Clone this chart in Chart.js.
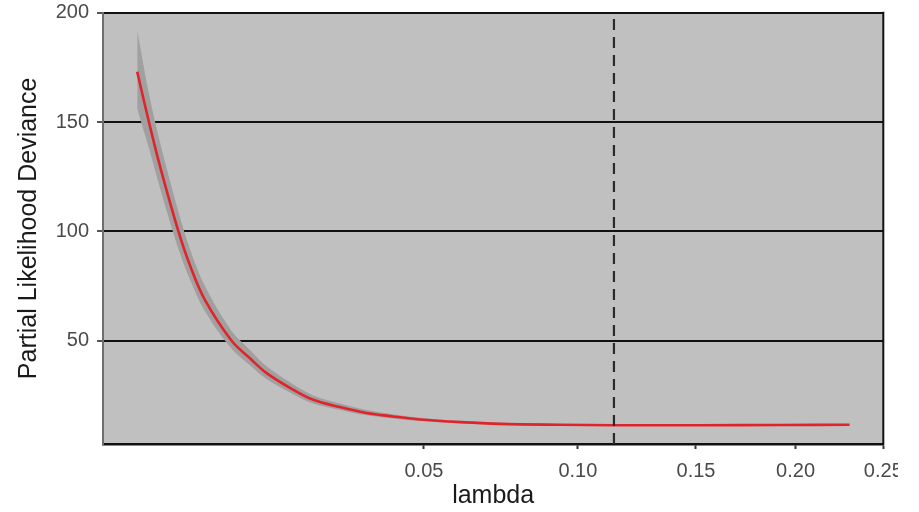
<!DOCTYPE html>
<html>
<head>
<meta charset="utf-8">
<script src="https://cdn.jsdelivr.net/npm/chart.js@4.4.1/dist/chart.umd.min.js"></script>
<style>
  html, body { margin: 0; padding: 0; background: #fff; }
  #wrap { width: 898px; height: 512px; overflow: hidden; }
</style>
</head>
<body>
<div id="wrap"><canvas id="cv" width="919" height="512"></canvas></div>
<script>
// cross-validated deviance
const lambdas  = [0.00261, 0.00338, 0.00419, 0.00576, 0.00686, 0.00843, 0.01164, 0.01414, 0.01663, 0.02044, 0.02465,
                  0.02995, 0.03577, 0.0420, 0.04893, 0.0602, 0.0725, 0.0933, 0.1142, 0.1519, 0.1917, 0.2301];
const devMean  = [173, 150, 130, 100, 84.5, 68.7, 50, 42, 35.2, 28.5, 23, 19.7, 17, 15.4, 14, 12.8, 12.0, 11.6, 11.4, 11.4, 11.5, 11.6];
const devUpper = [192, 163, 141, 109, 92, 75, 54.5, 45.8, 38.3, 31, 25, 21.3, 18.3, 16.4, 14.8, 13.4, 12.5, 12.0, 11.8, 11.8, 11.9, 12.0];
const devLower = [156, 138, 120, 92, 78, 63.5, 46.3, 38.8, 32.5, 26.4, 21.3, 18.4, 15.9, 14.5, 13.3, 12.3, 11.6, 11.3, 11.1, 11.1, 11.2, 11.3];
const lambdaMin = 0.1142;

const xTickVals   = [0.05, 0.10, 0.15, 0.20, 0.25];
const xTickLabels = ["0.05", "0.10", "0.15", "0.20", "0.25"];
const yTickVals   = [50, 100, 150, 200];
const xAxisRange  = [0.00093, 0.25];
const yAxisRange  = [2.8, 200];

const FONT = '"Liberation Sans", Arial, Helvetica, sans-serif';
const sq = v => Math.sqrt(v); // x axis is square-root scaled

function pts(ys) {
  return lambdas.map((l, i) => ({ x: sq(l), y: ys[i] }));
}

const panelBg = {
  id: "panelBg",
  beforeDraw(chart) {
    const { ctx, chartArea: a } = chart;
    ctx.save();
    ctx.fillStyle = "#c0c0c0";
    ctx.fillRect(a.left, a.top, a.right - a.left, a.bottom - a.top);
    ctx.restore();
  },
  afterDraw(chart) {
    const { ctx, chartArea: a } = chart;
    ctx.save();
    ctx.strokeStyle = "#111";
    ctx.lineWidth = 2;
    ctx.beginPath();
    ctx.moveTo(a.right, a.top - 1);
    ctx.lineTo(a.right, a.bottom + 1);
    ctx.stroke();
    ctx.restore();
  }
};

new Chart(document.getElementById("cv"), {
  type: "line",
  data: {
    datasets: [
      { data: pts(devUpper), order: 4, borderWidth: 0, pointRadius: 0, fill: "+1", backgroundColor: "#a0a0a0", tension: 0.35 },
      { data: pts(devLower), order: 3, borderWidth: 0, pointRadius: 0, fill: false, tension: 0.35 },
      { data: pts(devMean), order: 1, borderColor: "#e0242b", borderWidth: 2.6, pointRadius: 0, fill: false, tension: 0.35 },
      { data: [{ x: sq(lambdaMin), y: yAxisRange[0] }, { x: sq(lambdaMin), y: yAxisRange[1] }], order: 0,
        borderColor: "#2a2a2a", borderWidth: 2.2, borderDash: [11, 7], pointRadius: 0, fill: false }
    ]
  },
  options: {
    responsive: false,
    animation: false,
    devicePixelRatio: 1,
    layout: { autoPadding: false, padding: { left: 0, right: 35.7, top: 12.7, bottom: 0 } },
    plugins: { legend: { display: false }, tooltip: { enabled: false }, filler: { drawTime: "beforeDatasetsDraw" } },
    scales: {
      x: {
        type: "linear",
        min: sq(xAxisRange[0]),
        max: sq(xAxisRange[1]),
        afterBuildTicks: s => { s.ticks = xTickVals.map(v => ({ value: sq(v) })); },
        afterFit: s => { s.height = 68; s.paddingLeft = 0; s.paddingRight = 0; },
        grid: { drawOnChartArea: false, drawTicks: true, tickLength: 5, tickColor: "#333", tickWidth: 2 },
        border: { display: true, color: "#111", width: 2.5 },
        ticks: {
          autoSkip: false, maxRotation: 0, padding: 10, color: "#4a4a4a",
          font: { family: FONT, size: 20 },
          callback: (v, i) => xTickLabels[i]
        },
        title: { display: true, text: "lambda", color: "#1a1a1a", font: { family: FONT, size: 25 }, padding: { top: 0, bottom: 1 } }
      },
      y: {
        type: "linear",
        min: yAxisRange[0],
        max: yAxisRange[1],
        afterBuildTicks: s => { s.ticks = yTickVals.map(v => ({ value: v })); },
        afterFit: s => { s.width = 103; s.paddingTop = 0; s.paddingBottom = 0; },
        grid: { color: "#111", lineWidth: 2, drawTicks: true, tickLength: 6, tickColor: "#555", tickWidth: 2 },
        border: { display: true, color: "#6e6e6e", width: 2 },
        ticks: {
          autoSkip: false, padding: 8, color: "#4a4a4a",
          font: { family: FONT, size: 20 },
          callback: v => String(v)
        },
        title: { display: true, text: "Partial Likelihood Deviance", color: "#1a1a1a", font: { family: FONT, size: 25 }, padding: { top: 14, bottom: 0 } }
      }
    }
  },
  plugins: [panelBg]
});
</script>
</body>
</html>
